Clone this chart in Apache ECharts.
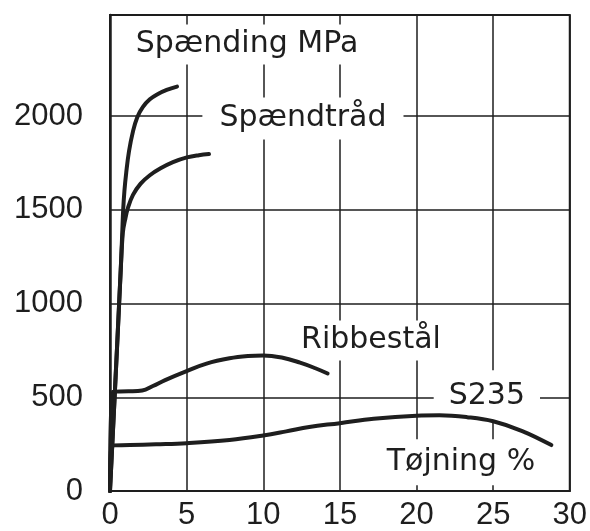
<!DOCTYPE html>
<html>
<head>
<meta charset="utf-8">
<script src="https://cdn.jsdelivr.net/npm/echarts@6/dist/echarts.min.js"></script>
<style>
  html, body { margin: 0; padding: 0; background: #ffffff; }
  #chart { width: 590px; height: 531px; }
</style>
</head>
<body>
<div id="chart"></div>
<script>
// Arbejdskurver: tøjning (%) mod spænding (MPa)
const spaendtraadHoj = [[0,0],[0.45,750],[0.7,1180],[0.8,1380],[0.86,1500],[0.94,1600],[1.06,1700],[1.24,1813],[1.5,1919],[1.78,1995],[2.15,2050],[2.6,2090],[3.07,2116],[3.7,2140],[4.37,2158]];
const spaendtraadLav = [[0,0],[0.45,750],[0.7,1180],[0.84,1380],[0.98,1445],[1.17,1510],[1.5,1580],[2.0,1640],[2.6,1685],[3.3,1722],[4.11,1755],[5.02,1780],[5.8,1792],[6.46,1798]];
const ribbestaal = [[0,0],[0.2,530],[1.2,532],[2.1,536],[2.8,560],[3.6,592],[5.0,640],[6.3,680],[7.8,708],[9.0,720],[10,723],[11.2,712],[12.4,685],[13.4,655],[14.2,627]];
const s235 = [[0,0],[0.1,242],[1.3,245],[3,249],[5,255],[7.8,272],[10,296],[11.5,318],[13,342],[15,362],[17.2,386],[20,402],[21.5,404],[23.3,394],[25,372],[26.9,320],[28.8,245]];

// Akseinddeling
const xTickLabels = ['0','5','10','15','20','25','30'];
const yTickLabels = ['0','500','1000','1500','2000'];

// Tekster i diagrammet og deres ankerpunkter (tøjning, spænding)
const noteTexts = ['Spænding MPa','Spændtråd','Ribbestål','S235','Tøjning %'];
const noteAnchors = [[8.94,2382],[12.59,1988],[17.03,803],[24.59,505],[22.9,154]];

const ink = '#1e1e1e';
const notePadding = [[4,20],[5,17],[4,13],[10,15],[7,3]];

function curve(name, data, smooth) {
  return {
    name, type: 'line', data, smooth,
    showSymbol: false, symbol: 'none', z: 3,
    lineStyle: { color: ink, width: 4, cap: 'round', join: 'round' }
  };
}

const chart = echarts.init(document.getElementById('chart'), null, { renderer: 'canvas' });
chart.setOption({
  animation: false,
  backgroundColor: '#ffffff',
  grid: {
    left: 110, right: 20, top: 15, bottom: 38,
    show: true, borderColor: ink, borderWidth: 2, backgroundColor: 'transparent'
  },
  xAxis: {
    type: 'value', min: 0, max: 30, interval: 5,
    axisLine: { show: true, onZero: false, lineStyle: { color: ink, width: 2 } },
    axisTick: { show: false },
    axisLabel: {
      margin: 9, color: ink, fontFamily: 'Liberation Sans', fontSize: 31,
      formatter: v => xTickLabels.includes(String(v)) ? String(v) : ''
    },
    splitLine: { show: true, lineStyle: { color: ink, width: 1.5 } }
  },
  yAxis: {
    type: 'value', min: 0, max: 2540, interval: 500,
    axisLine: { show: true, onZero: false, lineStyle: { color: ink, width: 2.5 } },
    axisTick: { show: false },
    axisLabel: {
      margin: 27, color: ink, fontFamily: 'Liberation Sans', fontSize: 31,
      formatter: v => yTickLabels.includes(String(v)) ? String(v) : ''
    },
    splitLine: {
      show: true,
      lineStyle: { color: [ink, ink, ink, ink, ink, 'rgba(0,0,0,0)', ink], width: 1.5 }
    }
  },
  series: [
    curve('Spændtråd høj', spaendtraadHoj, 0.4),
    curve('Spændtråd lav', spaendtraadLav, 0.4),
    curve('Ribbestål', ribbestaal, 0.4),
    curve('S235', s235, 0.4),
    {
      name: 'tekster', type: 'scatter', z: 1, symbolSize: 0, silent: true,
      itemStyle: { color: ink, opacity: 1 },
      data: noteTexts.map((t, i) => ({
        value: noteAnchors[i], name: t,
        label: { padding: notePadding[i] }
      })),
      label: {
        show: true, position: 'inside', formatter: p => p.name,
        color: ink, opacity: 1, textBorderWidth: 0, textBorderColor: 'transparent',
        fontFamily: 'DejaVu Sans', fontSize: 30, lineHeight: 32,
        backgroundColor: '#ffffff'
      }
    }
  ]
});
</script>
</body>
</html>
